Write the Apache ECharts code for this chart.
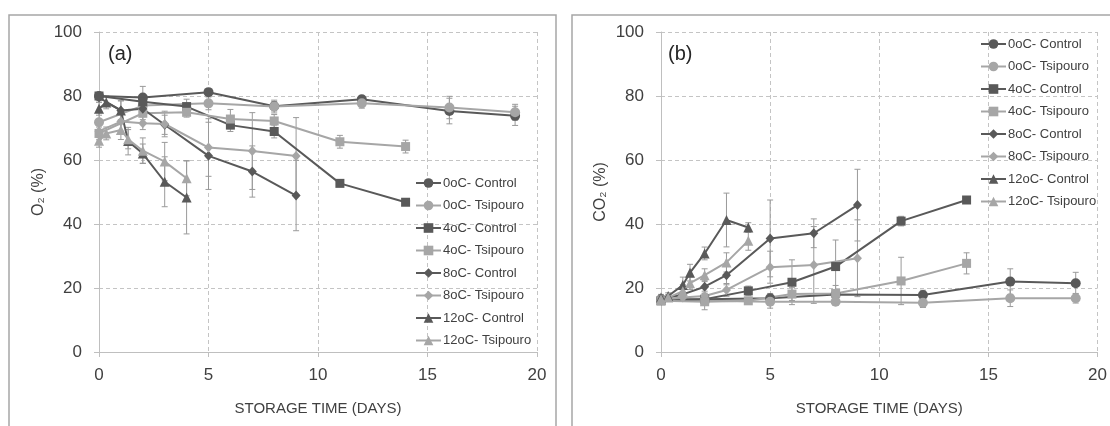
<!DOCTYPE html>
<html>
<head>
<meta charset="utf-8">
<script src="https://cdn.jsdelivr.net/npm/echarts@6/dist/echarts.min.js"></script>
<style>
  html, body { margin: 0; padding: 0; background: #fff; }
  #chart { width: 1110px; height: 426px; }
</style>
</head>
<body>
<div id="chart"></div>
<script>
// series names (legend order)
const names = ['0oC- Control', '0oC- Tsipouro', '4oC- Control', '4oC- Tsipouro',
               '8oC- Control', '8oC- Tsipouro', '12oC- Control', '12oC- Tsipouro'];

// [day, value, error]
// (a) O2 %
const o2_0c_ctrl = [[0, 80, 1], [2, 79.5, 3.5], [5, 81.2, 1], [8, 76.8, 1.5], [12, 79, 1], [16, 75.3, 4], [19, 73.8, 3]];
const o2_0c_tsip = [[0, 71.8, 3], [2, 77, 2], [5, 77.7, 2], [8, 76.7, 2], [12, 77.7, 1.5], [16, 76.4, 3.5], [19, 74.9, 2.5]];
const o2_4c_ctrl = [[0, 80, 1], [2, 78.2, 1.5], [4, 76.7, 2.3], [6, 70.9, 2], [8, 68.9, 2], [11, 52.7, 1], [14, 46.8, 1]];
const o2_4c_tsip = [[0, 68.3, 2], [2, 74.6, 2], [4, 74.9, 1.5], [6, 72.8, 3], [8, 72.2, 2], [11, 65.7, 2], [14, 64.2, 2]];
const o2_8c_ctrl = [[0, 79.5, 1], [1, 75.5, 3], [2, 76, 2], [3, 71, 3], [5, 61.3, 10.5], [7, 56.4, 8], [9, 48.9, 11]];
const o2_8c_tsip = [[0, 69, 2], [1, 72, 3], [2, 71.5, 2], [3, 71.25, 4], [5, 63.9, 9], [7, 62.8, 12], [9, 61.25, 12]];
const o2_12c_ctrl = [[0, 76, 2], [0.33, 78, 2], [1, 75.5, 3], [1.33, 65.9, 4.3], [2, 62, 3], [3, 53.2, 7.8], [4, 48.3, 11.4]];
const o2_12c_tsip = [[0, 66, 2], [0.33, 68.3, 2], [1, 69.4, 3], [1.33, 66.5, 3], [2, 62.9, 4], [3, 59.5, 6], [4, 54.3, 5.5]];

// (b) CO2 %
const co2_0c_ctrl = [[0, 16.5, 1], [2, 16.5, 1], [5, 16.8, 1.5], [8, 18, 1.5], [12, 17.8, 1.5], [16, 22, 4], [19, 21.5, 3.4]];
const co2_0c_tsip = [[0, 16.3, 1], [2, 16, 1], [5, 15.7, 2], [8, 15.7, 1], [12, 15.4, 1.5], [16, 16.8, 2.6], [19, 16.8, 1.5]];
const co2_4c_ctrl = [[0, 16, 1], [2, 16.5, 1], [4, 19.1, 1.5], [6, 21.8, 7], [8, 26.7, 8.3], [11, 40.9, 1.5], [14, 47.5, 1]];
const co2_4c_tsip = [[0, 16, 1], [2, 15.7, 2.5], [4, 16, 1], [6, 18.1, 2], [8, 18.3, 2.5], [11, 22.2, 7.4], [14, 27.7, 3.3]];
const co2_8c_ctrl = [[0, 16.5, 1], [1, 18, 1], [2, 20.4, 2], [3, 24, 3], [5, 35.5, 12], [7, 37.1, 4.5], [9, 45.9, 11.2]];
const co2_8c_tsip = [[0, 16.5, 1], [1, 17, 1], [2, 17.5, 1.5], [3, 19.4, 2], [5, 26.5, 5], [7, 27.2, 12], [9, 29.3, 12]];
const co2_12c_ctrl = [[0, 17, 1], [0.33, 17.5, 1], [1, 20.9, 2.5], [1.33, 24.8, 2.6], [2, 30.8, 2], [3, 41.25, 8.4], [4, 38.9, 1.5]];
const co2_12c_tsip = [[0, 16.5, 1], [0.33, 17, 1], [1, 19, 2], [1.33, 21.5, 2], [2, 24, 2], [3, 28, 3], [4, 34.8, 3]];

const xTicks = [0, 5, 10, 15, 20];
const yTicks = [0, 20, 40, 60, 80, 100];

const DARK = '#595959';
const LIGHT = '#a6a6a6';
const TEXT = '#404040';
const FONT = 'Liberation Sans';

const styles = [
    { symbol: 'circle', size: 10, color: DARK },
    { symbol: 'circle', size: 10, color: LIGHT },
    { symbol: 'rect', size: 9, color: DARK },
    { symbol: 'rect', size: 9, color: LIGHT },
    { symbol: 'diamond', size: [9, 10], color: DARK },
    { symbol: 'diamond', size: [9, 10], color: LIGHT },
    { symbol: 'triangle', size: 10, color: DARK },
    { symbol: 'triangle', size: 10, color: LIGHT },
];

const panelA = [o2_0c_ctrl, o2_0c_tsip, o2_4c_ctrl, o2_4c_tsip, o2_8c_ctrl, o2_8c_tsip, o2_12c_ctrl, o2_12c_tsip];
const panelB = [co2_0c_ctrl, co2_0c_tsip, co2_4c_ctrl, co2_4c_tsip, co2_8c_ctrl, co2_8c_tsip, co2_12c_ctrl, co2_12c_tsip];

const errorSeries = (pts, axis) => ({
    type: 'custom',
    xAxisIndex: axis,
    yAxisIndex: axis,
    silent: true,
    z: 1,
    data: pts.map((p) => [p[0], p[1] - p[2], p[1] + p[2]]),
    encode: { x: 0, y: [1, 2] },
    renderItem: (params, api) => {
        const lo = api.coord([api.value(0), api.value(1)]);
        const hi = api.coord([api.value(0), api.value(2)]);
        const w = 3;
        const st = { stroke: '#9a9a9a', lineWidth: 1 };
        return {
            type: 'group',
            children: [
                { type: 'line', shape: { x1: lo[0], y1: lo[1], x2: hi[0], y2: hi[1] }, style: st },
                { type: 'line', shape: { x1: lo[0] - w, y1: lo[1], x2: lo[0] + w, y2: lo[1] }, style: st },
                { type: 'line', shape: { x1: hi[0] - w, y1: hi[1], x2: hi[0] + w, y2: hi[1] }, style: st },
            ],
        };
    },
});

const lineSeries = (pts, i, axis) => ({
    name: names[i],
    type: 'line',
    xAxisIndex: axis,
    yAxisIndex: axis,
    data: pts.map((p) => [p[0], p[1]]),
    symbol: styles[i].symbol,
    symbolSize: styles[i].size,
    showAllSymbol: true,
    itemStyle: { color: styles[i].color },
    lineStyle: { color: styles[i].color, width: 2 },
    z: 3,
    animation: false,
});

const series = [];
[panelA, panelB].forEach((panel, axis) => {
    panel.forEach((pts) => series.push(errorSeries(pts, axis)));
    panel.forEach((pts, i) => series.push(lineSeries(pts, i, axis)));
});

const xAxis = (idx) => ({
    type: 'value',
    gridIndex: idx,
    min: 0,
    max: 20,
    interval: 5,
    name: 'STORAGE TIME (DAYS)',
    nameLocation: 'middle',
    nameGap: 49,
    nameTextStyle: { color: TEXT, fontFamily: FONT, fontSize: 15 },
    axisLine: { show: true, onZero: false, lineStyle: { color: '#bfbfbf', width: 1 } },
    axisTick: { show: true, length: 5, lineStyle: { color: '#bfbfbf' } },
    axisLabel: {
        color: TEXT, fontFamily: FONT, fontSize: 17, margin: 15,
        formatter: (v) => (xTicks.includes(v) ? String(v) : ''),
    },
    splitLine: { show: true, lineStyle: { color: '#c4c4c4', type: [4, 3], width: 1 } },
});

const yAxis = (idx, name) => ({
    type: 'value',
    gridIndex: idx,
    min: 0,
    max: 100,
    interval: 20,
    name: name,
    nameLocation: 'middle',
    nameGap: 52,
    nameTextStyle: { color: TEXT, fontFamily: FONT, fontSize: 16 },
    axisLine: { show: true, lineStyle: { color: '#bfbfbf', width: 1 } },
    axisTick: { show: true, length: 5, lineStyle: { color: '#bfbfbf' } },
    axisLabel: {
        color: TEXT, fontFamily: FONT, fontSize: 17, margin: 17,
        formatter: (v) => (yTicks.includes(v) ? String(v) : ''),
    },
    splitLine: { show: true, lineStyle: { color: '#c4c4c4', type: [4, 3], width: 1 } },
});

const legend = (left, top) => ({
    data: names,
    orient: 'vertical',
    left: left,
    top: top,
    itemWidth: 25,
    itemHeight: 12,
    itemGap: 6.5,
    selectedMode: false,
    textStyle: { color: TEXT, fontFamily: FONT, fontSize: 13, lineHeight: 16, padding: [0, 0, 0, -3] },
});

const chart = echarts.init(document.getElementById('chart'), null, { renderer: 'canvas' });

chart.setOption({
    animation: false,
    backgroundColor: '#fff',
    grid: [
        { left: 99, right: 573, top: 32, bottom: 74 },
        { left: 661, right: 12, top: 32, bottom: 74 },
    ],
    xAxis: [xAxis(0), xAxis(1)],
    yAxis: [yAxis(0, 'O₂ (%)'), yAxis(1, 'CO₂ (%)')],
    legend: [legend(410, 170), legend(975, 31)],
    graphic: [
        { type: 'rect', shape: { x: 9, y: 15, width: 547, height: 430 }, style: { fill: 'none', stroke: '#a6a6a6', lineWidth: 1.5 }, silent: true },
        { type: 'rect', shape: { x: 572, y: 15, width: 560, height: 430 }, style: { fill: 'none', stroke: '#a6a6a6', lineWidth: 1.5 }, silent: true },
        { type: 'text', left: 108, top: 44, style: { text: '(a)', fontSize: 20, fontFamily: FONT, fill: '#262626' }, silent: true },
        { type: 'text', left: 668, top: 44, style: { text: '(b)', fontSize: 20, fontFamily: FONT, fill: '#262626' }, silent: true },
    ],
    series: series,
});
</script>
</body>
</html>
